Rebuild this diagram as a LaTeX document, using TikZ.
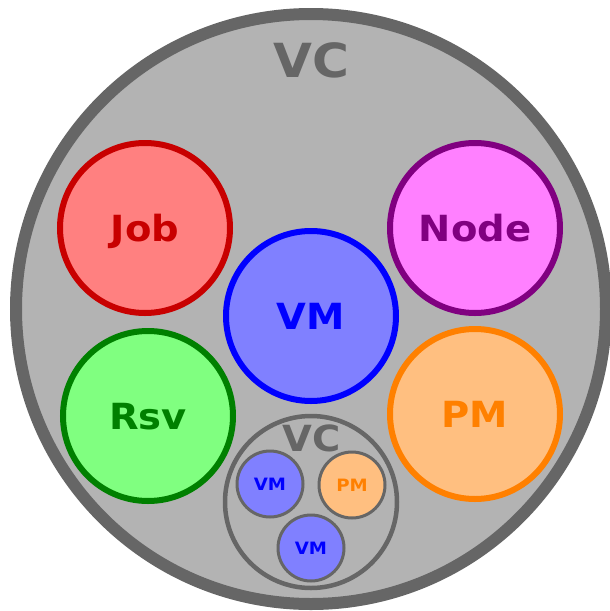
\documentclass[tikz,border=0pt]{standalone}
\usepackage{fontspec}
\setmainfont[FakeStretch=1.07]{DejaVu Sans}
\definecolor{vcfill}{HTML}{B3B3B3}
\definecolor{vcline}{HTML}{666666}
\definecolor{jobfill}{HTML}{FF8080}
\definecolor{jobline}{HTML}{C80000}
\definecolor{nodefill}{HTML}{FF80FF}
\definecolor{nodeline}{HTML}{800080}
\definecolor{vmfill}{HTML}{8080FF}
\definecolor{vmline}{HTML}{0000FF}
\definecolor{rsvfill}{HTML}{80FF80}
\definecolor{rsvline}{HTML}{008000}
\definecolor{pmfill}{HTML}{FFBF80}
\definecolor{pmline}{HTML}{FF8000}
\begin{document}
\begin{tikzpicture}[x=1pt,y=-1pt,
  ent/.style={circle,minimum size=170pt,inner sep=0pt,line width=6pt},
  lbl/.style={inner sep=0pt,text height=26pt,text depth=0pt,font=\fontsize{36}{40}\selectfont\bfseries},
  big/.style={inner sep=0pt,text height=34pt,text depth=0pt,font=\fontsize{47}{52}\selectfont\bfseries},
  small/.style={circle,minimum size=66pt,inner sep=0pt,line width=3pt,draw=vcline},
  slbl/.style={inner sep=0pt,text height=12.4pt,text depth=0pt,font=\fontsize{17}{20}\selectfont\bfseries}]
\useasboundingbox (0,0) rectangle (610,611);
% outer VC
\draw[fill=vcfill,draw=vcline,line width=12pt] (311,309) circle (295);
\node[big,text=vcline] (vctitle) at (311,60) {VC};
% entities
\node[ent,fill=jobfill,draw=jobline] (job) at (145,228) {};
\node[lbl,text=jobline] (jobt) at (job.center) {Job};
\node[ent,fill=nodefill,draw=nodeline] (node) at (475,228) {};
\node[lbl,text=nodeline] (nodet) at (node.center) {Node};
\node[ent,fill=vmfill,draw=vmline] (vm) at (311,316) {};
\node[lbl,text=vmline] (vmt) at (vm.center) {VM};
\node[ent,fill=rsvfill,draw=rsvline] (rsv) at (148,416) {};
\node[lbl,text=rsvline] (rsvt) at (rsv.center) {Rsv};
\node[ent,fill=pmfill,draw=pmline] (pm) at (475,414) {};
\node[lbl,text=pmline] (pmt) at (pm.center) {PM};
% inner VC
\node[circle,minimum size=172pt,inner sep=0pt,line width=4.5pt,draw=vcline,fill=vcfill] (vc2) at (311,502) {};
\node[lbl,text=vcline] (vc2t) at (312,438) {VC};
\node[small,fill=vmfill] (svm1) at (270,484) {};
\node[slbl,text=vmline] (svm1t) at (svm1.center) {VM};
\node[small,fill=pmfill] (spm) at (352,485) {};
\node[slbl,text=pmline] (spmt) at (spm.center) {PM};
\node[small,fill=vmfill] (svm2) at (311,548) {};
\node[slbl,text=vmline] (svm2t) at (svm2.center) {VM};
\end{tikzpicture}
\end{document}
